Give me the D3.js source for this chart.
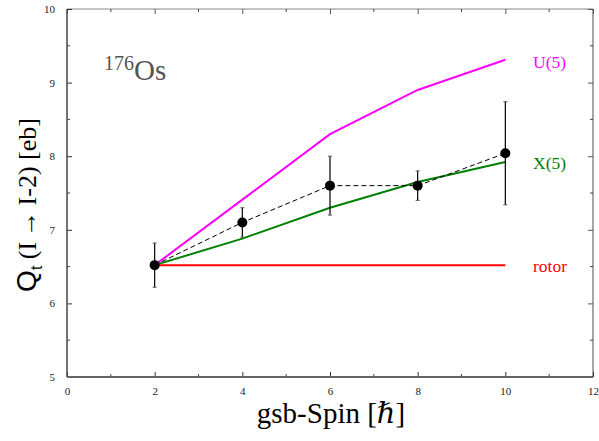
<!DOCTYPE html>
<html><head><meta charset="utf-8">
<script src="https://cdn.jsdelivr.net/npm/d3@7"></script>
<style>body{margin:0;background:#fff}</style>
</head><body>
<svg id="c" width="599" height="441"></svg>
<script>
const spins = [2, 4, 6, 8, 10];
const expQ = [6.52, 7.10, 7.60, 7.60, 8.04];
const expErr = [0.30, 0.20, 0.40, 0.20, 0.70];
const u5 = [6.52, 7.41, 8.30, 8.90, 9.31];
const x5 = [6.52, 6.88, 7.30, 7.65, 7.92];
const rotor = [6.52, 6.52, 6.52, 6.52, 6.52];
const xTicks = [0, 2, 4, 6, 8, 10, 12];
const yTicks = [5, 6, 7, 8, 9, 10];

const svg = d3.select("#c");
const m = {l: 67, r: 593, t: 9, b: 377};
const x = d3.scaleLinear().domain([0, 12]).range([m.l, m.r]);
const y = d3.scaleLinear().domain([5, 10]).range([m.b, m.t]);
const serif = "'Liberation Serif','DejaVu Serif',serif";

svg.append("line").attr("x1", m.l).attr("x2", m.r).attr("y1", m.t).attr("y2", m.t).attr("stroke", "#888").attr("stroke-width", 1.2);
svg.append("line").attr("x1", m.r).attr("x2", m.r).attr("y1", m.t).attr("y2", m.b).attr("stroke", "#888").attr("stroke-width", 1.5);
const minorX = d3.range(1, 12, 2), minorY = [5.5, 6.5, 7.5, 8.5, 9.5];

const xb = svg.append("g").attr("transform", `translate(0,${m.b})`)
  .call(d3.axisBottom(x).tickValues(xTicks).tickSize(-5).tickPadding(8).tickFormat(d3.format("d")));
const xt = svg.append("g").attr("transform", `translate(0,${m.t})`)
  .call(d3.axisTop(x).tickValues(xTicks).tickSize(-5).tickFormat(""));
const yl = svg.append("g").attr("transform", `translate(${m.l},0)`)
  .call(d3.axisLeft(y).tickValues(yTicks).tickSize(-5).tickPadding(12).tickFormat(d3.format("d")));
const yr = svg.append("g").attr("transform", `translate(${m.r},0)`)
  .call(d3.axisRight(y).tickValues(yTicks).tickSize(-5).tickFormat(""));
[xb, xt, yl, yr].forEach(g => {
  g.select(".domain").remove();
  g.selectAll("text").attr("font-family", serif).attr("font-size", 11).attr("fill", "#222");
  g.selectAll("line").attr("stroke", "#333");
});
xt.selectAll("line").attr("stroke", "#555"); yr.selectAll("line").attr("stroke", "#555");
xb.selectAll("text").attr("dy", "0.9em");
[m.b, m.t].forEach((yy, i) => svg.selectAll(null).data(minorX).join("line")
  .attr("x1", d => x(d)).attr("x2", d => x(d)).attr("y1", yy).attr("y2", i === 0 ? yy - 3 : yy + 3).attr("stroke", "#444"));
[m.l, m.r].forEach((xx, i) => svg.selectAll(null).data(minorY).join("line")
  .attr("y1", d => y(d)).attr("y2", d => y(d)).attr("x1", xx).attr("x2", i === 0 ? xx + 3 : xx - 3).attr("stroke", "#444"));
svg.append("line").attr("x1", m.l).attr("x2", m.r).attr("y1", m.b).attr("y2", m.b).attr("stroke", "#666").attr("stroke-width", 1.8);
svg.append("line").attr("x1", m.l).attr("x2", m.l).attr("y1", m.t).attr("y2", m.b).attr("stroke", "#444").attr("stroke-width", 1.5);

const line = d3.line().x((d, i) => x(spins[i])).y(d => y(d));
svg.append("path").datum(rotor).attr("d", line).attr("fill", "none").attr("stroke", "#ff0000").attr("stroke-width", 2);
svg.append("path").datum(x5).attr("d", line).attr("fill", "none").attr("stroke", "#008000").attr("stroke-width", 2);
svg.append("path").datum(u5).attr("d", line).attr("fill", "none").attr("stroke", "#ff00ff").attr("stroke-width", 2);
svg.append("path").datum(expQ).attr("d", line).attr("fill", "none").attr("stroke", "#000").attr("stroke-width", 1).attr("stroke-dasharray", "5,3");

const eb = svg.append("g").attr("stroke", "#000");
spins.forEach((s, i) => {
  const cx = x(s), y1 = y(expQ[i] + expErr[i]), y2 = y(expQ[i] - expErr[i]);
  eb.append("line").attr("x1", cx).attr("x2", cx).attr("y1", y1).attr("y2", y2).attr("stroke-width", 1.2);
  eb.append("line").attr("x1", cx - 2).attr("x2", cx + 2).attr("y1", y1).attr("y2", y1).attr("stroke", "#555");
  eb.append("line").attr("x1", cx - 2).attr("x2", cx + 2).attr("y1", y2).attr("y2", y2).attr("stroke", "#555");
});
svg.selectAll("circle.pt").data(expQ).join("circle").attr("class", "pt")
  .attr("cx", (d, i) => x(spins[i])).attr("cy", d => y(d)).attr("r", 5).attr("fill", "#000");

const lab = [["U(5)", 9.3, "#ff00ff"], ["X(5)", 7.92, "#008000"], ["rotor", 6.52, "#ff0000"]];
lab.forEach(([t, v, c]) => svg.append("text").attr("x", 533).attr("y", y(v) + 7).attr("font-family", serif)
  .attr("font-size", 17.5).attr("fill", c).text(t));

const nt = svg.append("text").attr("x", 104).attr("y", 80).attr("font-family", serif).attr("fill", "#555");
nt.append("tspan").attr("font-size", 20).attr("dy", -10).text("176");
nt.append("tspan").attr("font-size", 29).attr("dy", 10).text("Os");

svg.append("text").attr("x", 331).attr("y", 423).attr("text-anchor", "middle").attr("font-family", serif)
  .attr("font-size", 29).attr("fill", "#000").text("gsb-Spin [ℏ]");
const yt = svg.append("text").attr("transform", "translate(36,205) rotate(-90)").attr("text-anchor", "middle")
  .attr("font-family", serif).attr("font-size", 26).attr("fill", "#000");
yt.append("tspan").attr("font-family", "'Liberation Sans',Arial,sans-serif").attr("font-size", 28).text("Q");
yt.append("tspan").attr("font-size", 16).attr("dy", 6).attr("font-family", "'Liberation Sans',Arial,sans-serif").text("t");
yt.append("tspan").attr("dy", -6).text(" (I\u2009→\u2009I-2) [eb]");
</script>
</body></html>
